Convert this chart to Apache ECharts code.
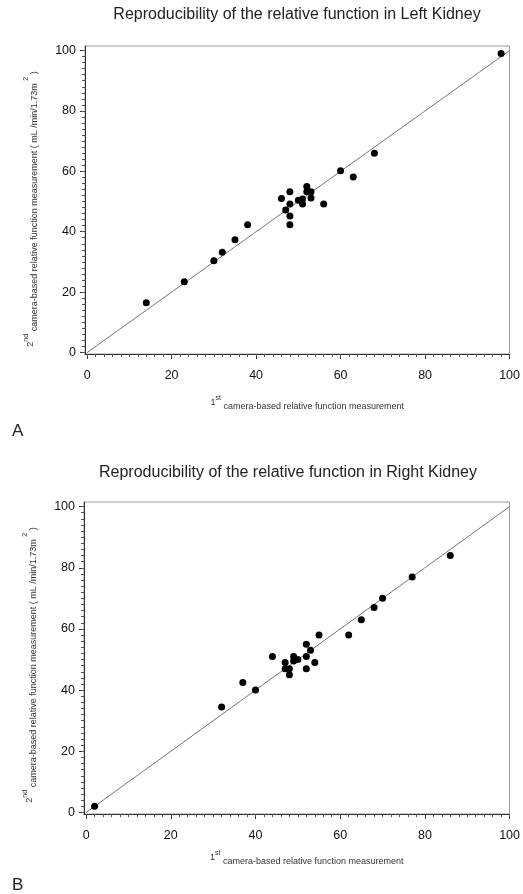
<!DOCTYPE html>
<html>
<head>
<meta charset="utf-8">
<script src="https://cdn.jsdelivr.net/npm/echarts@6/dist/echarts.min.js"></script>
<style>html,body{margin:0;padding:0;background:#fff}#c{width:523px;height:894px}</style>
</head>
<body>
<div id="c"></div>
<script>
// ---- data ----
const leftFirst  = [14, 23, 30, 32, 35, 38, 46, 47, 48, 48, 48, 48, 50, 51, 51, 52, 52, 53, 53, 56, 60, 63, 68, 98];
const leftSecond = [16.5, 23.4, 30.4, 33.2, 37.3, 42.3, 51, 47.2, 53.2, 49.2, 45.2, 42.3, 50.4, 50.8, 49.2, 55, 53.2, 53.2, 51.2, 49.2, 60.2, 58.1, 66, 99];
const rightFirst  = [2, 32, 37, 40, 44, 47, 47, 48, 48, 49, 49, 50, 52, 52, 52, 53, 54, 55, 62, 65, 68, 70, 77, 86];
const rightSecond = [2, 34.5, 42.5, 40, 51, 49, 47, 47, 45, 51, 49.5, 50, 55, 51, 47, 53, 49, 58, 58, 63, 67, 70, 77, 84];
const identity = [0, 100];
const tickLabels = [0, 20, 40, 60, 80, 100];
const minorTicks = Array.from({length: 51}, (_, i) => i * 2);
const titles = ['Reproducibility of the relative function in Left Kidney',
                'Reproducibility of the relative function in Right Kidney'];
const panelLetters = ['A', 'B'];

const FONT = '"Liberation Sans", Arial, sans-serif';
const pairs = (xs, ys) => xs.map((x, i) => [x, ys[i]]);

const grids = [
  {left: 85, right: 11, top: 46, height: 308},
  {left: 84, right: 11, top: 502, height: 312}
];
const xNameGaps = [41, 36];
const yNamePads = [18, 14];

const xName = '1{sup|st} {b|camera-based relative function measurement}';
const yName = '2{sup|nd} {b|camera-based relative function measurement ( mL /min/1.73m }{sup|2}{b| )}';
const richName = {
  b: {fontSize: 9, lineHeight: 16, color: '#333', fontFamily: FONT, verticalAlign: 'bottom'},
  sup: {fontSize: 7, lineHeight: 6, color: '#333', fontFamily: FONT, verticalAlign: 'top'}
};

const xAxes = [], yAxes = [];
grids.forEach((g, gi) => {
  xAxes.push({
    type: 'value', gridIndex: gi, min: -0.5, max: 100,
    axisLine: {show: true, onZero: false, lineStyle: {color: '#333', width: 1}},
    axisTick: {show: true, length: 5, customValues: tickLabels, lineStyle: {color: '#333'}},
    axisLabel: {customValues: tickLabels, fontSize: 12.5, color: '#111', fontFamily: FONT, margin: 15},
    splitLine: {show: false},
    name: xName, nameLocation: 'middle', nameGap: xNameGaps[gi],
    nameTextStyle: {fontSize: 9, color: '#333', fontFamily: FONT, rich: richName, padding: [0, 0, 0, 20]}
  });
  xAxes.push({
    type: 'value', gridIndex: gi, min: -0.5, max: 100, position: 'bottom',
    axisLine: {show: false, onZero: false},
    axisTick: {show: true, length: 3, customValues: minorTicks, lineStyle: {color: '#555'}},
    axisLabel: {show: false}, splitLine: {show: false}
  });
  yAxes.push({
    type: 'value', gridIndex: gi, min: -0.5, max: 101.5,
    axisLine: {show: true, onZero: false, lineStyle: {color: '#333', width: 1}},
    axisTick: {show: true, length: 5, customValues: tickLabels, lineStyle: {color: '#333'}},
    axisLabel: {customValues: tickLabels, fontSize: 12.5, color: '#111', fontFamily: FONT, margin: 9},
    splitLine: {show: false},
    name: yName, nameLocation: 'middle', nameRotate: 90, nameGap: 46,
    nameTextStyle: {fontSize: 9, color: '#333', fontFamily: FONT, rich: richName, padding: [0, yNamePads[gi], 0, 0]}
  });
  yAxes.push({
    type: 'value', gridIndex: gi, min: -0.5, max: 101.5, position: 'left',
    axisLine: {show: false, onZero: false},
    axisTick: {show: true, length: 3, customValues: minorTicks, lineStyle: {color: '#555'}},
    axisLabel: {show: false}, splitLine: {show: false}
  });
});

const datasets = [pairs(leftFirst, leftSecond), pairs(rightFirst, rightSecond)];
const series = [];
datasets.forEach((d, gi) => {
  series.push({
    type: 'line', xAxisIndex: gi * 2, yAxisIndex: gi * 2,
    data: pairs(identity, identity), symbol: 'none', silent: true, clip: true,
    lineStyle: {color: '#777', width: 1}, z: 2
  });
  series.push({
    type: 'scatter', xAxisIndex: gi * 2, yAxisIndex: gi * 2,
    data: d, symbol: 'circle', symbolSize: 7,
    itemStyle: {color: '#000', opacity: 1}, z: 3
  });
});

const chart = echarts.init(document.getElementById('c'), null, {renderer: 'canvas'});
chart.setOption({
  backgroundColor: '#fff',
  animation: false,
  grid: grids.map(g => Object.assign({show: true, borderColor: '#9a9a9a', borderWidth: 1, backgroundColor: 'transparent'}, g)),
  xAxis: xAxes,
  yAxis: yAxes,
  series: series,
  graphic: [
    {type: 'text', x: 297, y: 15, style: {text: titles[0], textAlign: 'center', textVerticalAlign: 'middle', font: '16px ' + FONT, fill: '#222'}},
    {type: 'text', x: 288, y: 473, style: {text: titles[1], textAlign: 'center', textVerticalAlign: 'middle', font: '16px ' + FONT, fill: '#222'}},
    {type: 'text', x: 12, y: 431, style: {text: panelLetters[0], textVerticalAlign: 'middle', font: '17px ' + FONT, fill: '#222'}},
    {type: 'text', x: 12, y: 885, style: {text: panelLetters[1], textVerticalAlign: 'middle', font: '17px ' + FONT, fill: '#222'}}
  ]
});
</script>
</body>
</html>
